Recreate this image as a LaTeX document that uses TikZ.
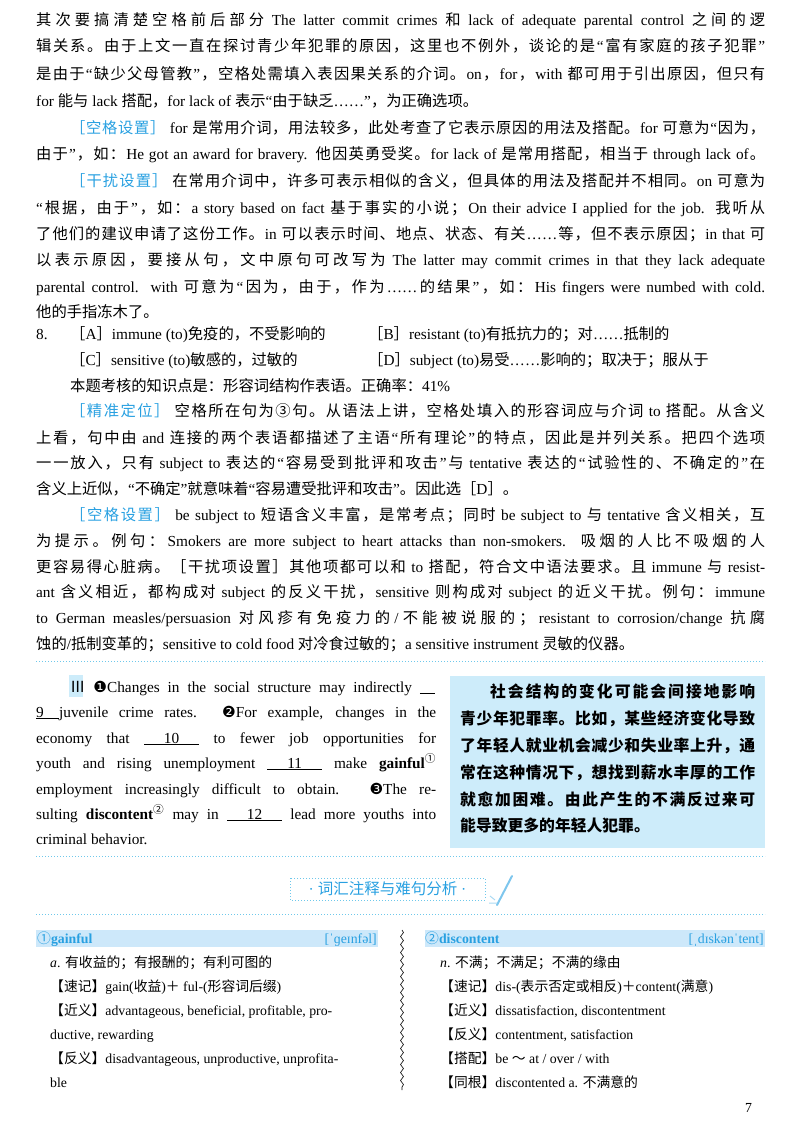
\documentclass[tikz,border=0pt]{standalone}
\usepackage{fontspec}
\usetikzlibrary{decorations.pathmorphing}
\setmainfont{Liberation Serif}
\newfontfamily\lat{Liberation Serif}
\newfontfamily\cjk{Noto Sans CJK SC}
\newfontfamily\dv{DejaVu Sans}
\newcount\cc
\newcommand\setcls[3]{\cc=#1\relax\loop\XeTeXcharclass\cc=#3\relax\ifnum\cc<#2\advance\cc by 1\repeat}
\setcls{"4E00}{"9FFF}{1}
\setcls{"3000}{"303F}{3}
\setcls{"FF00}{"FFEF}{3}
\setcls{"2460}{"24FF}{1}
\setcls{"2160}{"217F}{1}
\XeTeXinterchartokenstate=1
\XeTeXinterchartoks 4095 1 = {\cjk}
\XeTeXinterchartoks 4095 3 = {\cjk}
\XeTeXinterchartoks 1 4095 = {\lat}
\XeTeXinterchartoks 3 4095 = {\lat}
\XeTeXinterchartoks 1 1 = {\hskip0pt plus 2pt}
\XeTeXinterchartoks 1 3 = {\hskip0pt plus 2pt}
\XeTeXinterchartoks 3 1 = {\hskip0pt plus 2pt}
\XeTeXinterchartoks 3 3 = {\hskip0pt plus 2pt}
\XeTeXinterchartoks 3 0 = {\lat\hskip0pt plus 2pt}
\XeTeXinterchartoks 1 0 = {\lat\hskip0pt plus 2pt}
\XeTeXinterchartoks 0 1 = {\cjk\hskip0pt plus 2pt}
\XeTeXinterchartoks 0 3 = {\cjk\hskip0pt plus 2pt}
\definecolor{lblue}{RGB}{40,160,225}
\definecolor{boxfill}{RGB}{205,236,250}
\definecolor{barfill}{RGB}{205,232,250}
\definecolor{dotc}{RGB}{110,200,235}
\tikzset{txt/.style={anchor=base west,inner sep=0pt,font=\fontsize{15.3}{17}\selectfont},
 gls/.style={anchor=base west,inner sep=0pt,font=\fontsize{13.8}{16}\selectfont},
 dotline/.style={dotc,line width=1pt,dash pattern=on 1pt off 2pt}}
\newcommand\JL[3]{\node[txt] at (#1,#2) {\makebox[\dimexpr 765pt-#1pt\relax][s]{#3}};}
\newcommand\PL[3]{\node[txt] at (#1,#2) {#3};}
\newcommand\lab[1]{{\color{lblue}［#1］}}
\newcommand\blank[1]{\underline{\makebox[3.6em]{#1}}}
\begin{document}
\begin{tikzpicture}[x=1pt,y=-1pt]
\useasboundingbox (0,0) rectangle (800,1132);
\JL{36}{26}{其次要搞清楚空格前后部分 The latter commit crimes 和 lack of adequate parental control 之间的逻}
\JL{36}{52}{辑关系。由于上文一直在探讨青少年犯罪的原因，这里也不例外，谈论的是“富有家庭的孩子犯罪”}
\JL{36}{79}{是由于“缺少父母管教”，空格处需填入表因果关系的介词。on，for，with 都可用于引出原因，但只有}
\PL{36}{106}{for 能与 lack 搭配，for lack of 表示“由于缺乏……”，为正确选项。}
\JL{70}{133}{\lab{空格设置} for 是常用介词，用法较多，此处考查了它表示原因的用法及搭配。for 可意为“因为，}
\JL{36}{159}{由于”，如：He got an award for bravery. 他因英勇受奖。for lack of 是常用搭配，相当于 through lack of。}
\JL{70}{186}{\lab{干扰设置} 在常用介词中，许多可表示相似的含义，但具体的用法及搭配并不相同。on 可意为}
\JL{36}{213}{“根据，由于”，如：a story based on fact 基于事实的小说；On their advice I applied for the job. 我听从}
\JL{36}{239}{了他们的建议申请了这份工作。in 可以表示时间、地点、状态、有关……等，但不表示原因；in that 可}
\JL{36}{265}{以表示原因，要接从句，文中原句可改写为 The latter may commit crimes in that they lack adequate}
\JL{36}{292}{parental control. with 可意为“因为，由于，作为……的结果”，如：His fingers were numbed with cold.}
\PL{36}{317}{他的手指冻木了。}
\PL{36}{339}{8.}
\PL{70}{339}{［A］immune (to)免疫的，不受影响的}
\PL{368}{339}{［B］resistant (to)有抵抗力的；对……抵制的}
\PL{70}{365}{［C］sensitive (to)敏感的，过敏的}
\PL{368}{365}{［D］subject (to)易受……影响的；取决于；服从于}
\PL{70}{391}{本题考核的知识点是：形容词结构作表语。正确率：41\%}
\JL{70}{416}{\lab{精准定位} 空格所在句为③句。从语法上讲，空格处填入的形容词应与介词 to 搭配。从含义}
\JL{36}{443}{上看，句中由 and 连接的两个表语都描述了主语“所有理论”的特点，因此是并列关系。把四个选项}
\JL{36}{468}{一一放入，只有 subject to 表达的“容易受到批评和攻击”与 tentative 表达的“试验性的、不确定的”在}
\PL{36}{494}{含义上近似，“不确定”就意味着“容易遭受批评和攻击”。因此选［D］。}
\JL{70}{520}{\lab{空格设置} be subject to 短语含义丰富，是常考点；同时 be subject to 与 tentative 含义相关，互}
\JL{36}{546}{为提示。例句：Smokers are more subject to heart attacks than non-smokers. 吸烟的人比不吸烟的人}
\JL{36}{572}{更容易得心脏病。［干扰项设置］其他项都可以和 to 搭配，符合文中语法要求。且 immune 与 resist-}
\JL{36}{597}{ant 含义相近，都构成对 subject 的反义干扰，sensitive 则构成对 subject 的近义干扰。例句：immune}
\JL{36}{623}{to German measles/persuasion 对风疹有免疫力的/不能被说服的；resistant to corrosion/change 抗腐}
\PL{36}{649}{蚀的/抵制变革的；sensitive to cold food 对冷食过敏的；a sensitive instrument 灵敏的仪器。}
\draw[dotline] (36,661) -- (765,661);
% passage
\fill[boxfill] (69,675) rectangle (83,697);
\node[txt] (p1) at (70,692) {\makebox[365pt][s]{Ⅲ {\dv ❶}Changes in the social structure may indirectly \underline{\makebox[1em]{}}}};
\node[txt] (p2) at (36,717) {\makebox[400pt][s]{\underline{9\hspace{1em}}juvenile crime rates. {\dv ❷}For example, changes in the}};
\node[txt] (p3) at (36,743) {\makebox[400pt][s]{economy that \blank{10} to fewer job opportunities for}};
\node[txt] (p4) at (36,768) {\makebox[400pt][s]{youth and rising unemployment \blank{11} make \textbf{gainful}\textsuperscript{①}}};
\node[txt] (p5) at (36,794) {\makebox[400pt][s]{employment increasingly difficult to obtain. {\dv ❸}The re-}};
\node[txt] (p6) at (36,819) {\makebox[400pt][s]{sulting \textbf{discontent}\textsuperscript{②} may in \blank{12} lead more youths into}};
\node[txt] (p7) at (36,844) {criminal behavior.};
\fill[boxfill] (450,676) rectangle (765,848);
\begin{scope}[every node/.style={anchor=base west,inner sep=0pt,font=\fontsize{15.8}{18}\selectfont\bfseries}]
\node (c1) at (490,697) {\makebox[265pt][s]{社会结构的变化可能会间接地影响}};
\node (c2) at (460,724) {\makebox[295pt][s]{青少年犯罪率。比如，某些经济变化导致}};
\node (c3) at (460,751) {\makebox[295pt][s]{了年轻人就业机会减少和失业率上升，通}};
\node (c4) at (460,778) {\makebox[295pt][s]{常在这种情况下，想找到薪水丰厚的工作}};
\node (c5) at (460,805) {\makebox[295pt][s]{就愈加困难。由此产生的不满反过来可}};
\node (c6) at (460,831) {能导致更多的年轻人犯罪。};
\end{scope}
\draw[dotline] (36,856) -- (765,856);
% header
\draw[dotline,line width=0.8pt] (290,878) rectangle (485,900);
\node[inner sep=0pt,font=\fontsize{15.5}{18}\selectfont,text=lblue] (hd) at (387.5,889) {· 词汇注释与难句分析 ·};
\draw[lblue!60,line width=2pt,line cap=round] (497,905) -- (512,876);
\draw[lblue!40,line width=1pt] (495,900) -- (490,896) (497,903) -- (489,903);
\draw[dotline] (36,914) -- (765,914);
% glossary
\fill[barfill] (36,930) rectangle (378,947);
\fill[barfill] (425,930) rectangle (765,947);
\node[gls,text=lblue,font=\fontsize{13.8}{16}\selectfont\bfseries] (g1) at (37,943) {{\mdseries ①}gainful};
\node[gls,text=lblue,anchor=base east] (g1p) at (377,943) {[ˈɡeɪnfəl]};
\node[gls,text=lblue,font=\fontsize{13.8}{16}\selectfont\bfseries] (g2) at (425,943) {{\mdseries ②}discontent};
\node[gls,text=lblue,anchor=base east] (g2p) at (764,943) {[ˌdɪskənˈtent]};
\draw[decorate,decoration={snake,amplitude=1.5pt,segment length=8pt},line width=0.6pt] (402,930) -- (402,1090);
\node[gls] (l1) at (50,967) {\textit{a}. 有收益的；有报酬的；有利可图的};
\node[gls] (l2) at (50,991) {【速记】gain(收益)＋ ful-(形容词后缀)};
\node[gls] (l3) at (50,1015) {【近义】advantageous, beneficial, profitable, pro-};
\node[gls] (l4) at (50,1039) {ductive, rewarding};
\node[gls] (l5) at (50,1063) {【反义】disadvantageous, unproductive, unprofita-};
\node[gls] (l6) at (50,1087) {ble};
\node[gls] (r1) at (440,967) {\textit{n}. 不满；不满足；不满的缘由};
\node[gls] (r2) at (440,991) {【速记】dis-(表示否定或相反)＋content(满意)};
\node[gls] (r3) at (440,1015) {【近义】dissatisfaction, discontentment};
\node[gls] (r4) at (440,1039) {【反义】contentment, satisfaction};
\node[gls] (r5) at (440,1063) {【搭配】be ～ at / over / with};
\node[gls] (r6) at (440,1087) {【同根】discontented a. 不满意的};
\node[gls] (pg) at (745,1112) {7};
\end{tikzpicture}
\end{document}
